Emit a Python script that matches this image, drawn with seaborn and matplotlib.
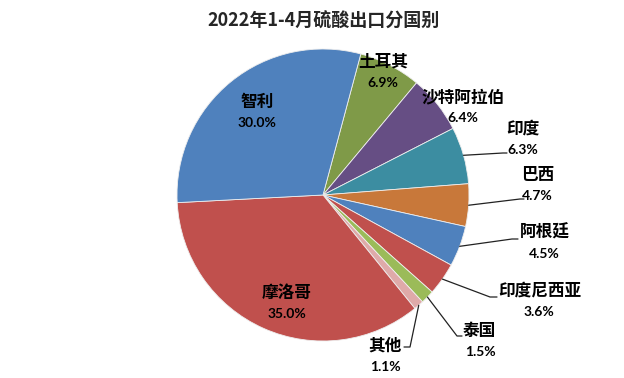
import numpy as np
import seaborn as sns
import matplotlib.pyplot as plt

# data, clockwise from the top
countries = ["土耳其", "沙特阿拉伯", "印度", "巴西", "阿根廷", "印度尼西亚", "泰国", "其他", "摩洛哥", "智利"]
shares = [6.9, 6.4, 6.3, 4.7, 4.5, 3.6, 1.5, 1.1, 35.0, 30.0]
colors = ["#7f9a48", "#664e84", "#3c8da1", "#c8783a", "#4f81bd", "#c0504d", "#9bbb59", "#dfaaa9", "#c0504d", "#4f81bd"]

title = "2022年1-4月硫酸出口分国别"

# label layout in pixels from top-left: name xy, pct xy, leader elbow, leader end
label_pos = {
    "土耳其": ((383, 62), (383, 83), None, None),
    "沙特阿拉伯": ((463, 97), (463, 118), None, None),
    "印度": ((523, 129), (523, 150), (503, 153), (507, 153)),
    "巴西": ((538, 175), (537, 196), (520, 199), (524, 199)),
    "阿根廷": ((545, 233), (544, 254), (512, 239), (518, 239)),
    "印度尼西亚": ((540, 291), (539, 312), (490, 297), (497, 297)),
    "泰国": ((479, 331), (480, 352), (457, 336), (462, 336)),
    "其他": ((385, 346), (385, 367), (410, 347), (404, 347)),
    "摩洛哥": ((287, 293), (287, 314), None, None),
    "智利": ((257, 102), (257, 123), None, None),
}

W, H = 624, 378
cx, cy, R = 323, 195, 146

sns.set_theme(style="white")
plt.rcParams["font.family"] = ["Noto Sans CJK SC", "DejaVu Sans"]

fig = plt.figure(figsize=(6.24, 3.78), dpi=100)
ax = fig.add_axes([0, 0, 1, 1])
wedges, _ = ax.pie(shares, colors=colors, startangle=75, counterclock=False,
                   center=(cx, H - cy), radius=R,
                   wedgeprops={"linewidth": 0.6, "edgecolor": "#eeeeee"})
ax.set_xlim(0, W)
ax.set_ylim(0, H)
ax.set_aspect("equal")
ax.axis("off")

for w, name, val in zip(wedges, countries, shares):
    npos, ppos, elbow, end = label_pos[name]
    ax.text(npos[0], H - npos[1], name, ha="center", va="center", fontsize=12,
            fontweight="bold", color="black")
    ax.text(ppos[0], H - ppos[1], f"{val:.1f}%", ha="center", va="center", fontsize=10,
            fontweight="bold", family=["Lato", "DejaVu Sans"], color="black")
    if elbow is not None:
        mid = np.deg2rad((w.theta1 + w.theta2) / 2)
        sx = cx + R * np.cos(mid)
        sy = H - cy + R * np.sin(mid)
        ax.plot([sx, elbow[0], end[0]], [sy, H - elbow[1], H - end[1]], color="#222222", lw=0.9)

fig.text(324 / W, 1 - 21 / H, title, ha="center", va="center", fontsize=13, fontweight="bold")

plt.savefig("out.png", dpi=100)
